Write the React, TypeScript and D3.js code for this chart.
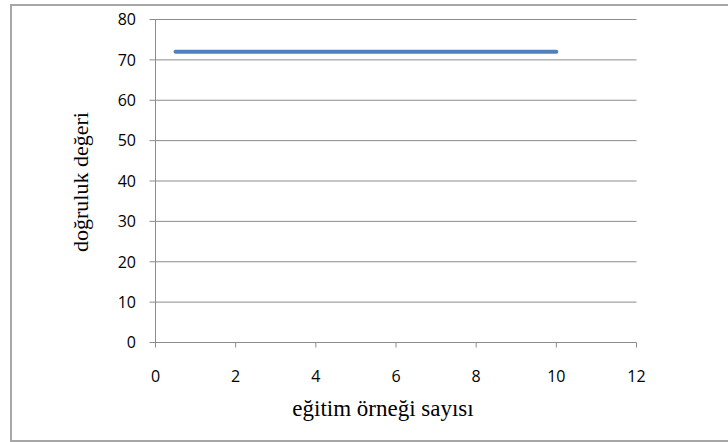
import React from "react";
import * as d3 from "d3";

// training sample count vs accuracy
const sampleCounts = [0.5, 10];
const accuracyValues = [72, 72];
const xTicks = [0, 2, 4, 6, 8, 10, 12];
const yTicks = [0, 10, 20, 30, 40, 50, 60, 70, 80];
const xTitle = "eğitim örneği sayısı";
const yTitle = "doğruluk değeri";

const W = 728;
const H = 442;
const M = { left: 155.5, right: 636.5, top: 19.5, bottom: 342.5 };

export default function App() {
  const x = d3.scaleLinear().domain([0, 12]).range([M.left, M.right]);
  const y = d3.scaleLinear().domain([0, 80]).range([M.bottom, M.top]);
  const points = sampleCounts.map((v, i) => [v, accuracyValues[i]] as [number, number]);
  const line = d3
    .line<[number, number]>()
    .x((d) => x(d[0]))
    .y((d) => y(d[1]));

  const tickFont = "'Open Sans', 'Liberation Sans', sans-serif";
  const titleFont = "'Liberation Serif', 'DejaVu Serif', serif";
  const grid = "#8c8c8c";

  return (
    <svg
      width={W}
      height={H}
      style={{ position: "absolute", left: 0, top: 0, background: "#fff" }}
    >
      {/* chart frame */}
      <rect x={11} y={5} width={740} height={436} fill="#fff" stroke="#a6a6a6" strokeWidth={2} />

      {/* horizontal gridlines */}
      {yTicks.map((t) => (
        <line key={"g" + t} x1={M.left - 6} x2={M.right} y1={y(t)} y2={y(t)} stroke={grid} strokeWidth={1} />
      ))}

      {/* y axis */}
      <line x1={M.left} x2={M.left} y1={M.top} y2={M.bottom} stroke={grid} strokeWidth={1} />

      {/* x axis ticks */}
      {xTicks.map((t) => (
        <line key={"xt" + t} x1={x(t)} x2={x(t)} y1={M.bottom} y2={M.bottom + 5} stroke={grid} strokeWidth={1} />
      ))}

      {/* y tick labels */}
      {yTicks.map((t) => (
        <text
          key={"yl" + t}
          x={136}
          y={y(t)}
          dy="0.36em"
          textAnchor="end"
          fontFamily={tickFont}
          fontSize={16}
          fill="#000"
        >
          {t}
        </text>
      ))}

      {/* x tick labels */}
      {xTicks.map((t) => (
        <text
          key={"xl" + t}
          x={x(t)}
          y={382}
          textAnchor="middle"
          fontFamily={tickFont}
          fontSize={16}
          fill="#000"
        >
          {t}
        </text>
      ))}

      {/* series */}
      <path
        d={line(points) ?? ""}
        fill="none"
        stroke="#4f81bd"
        strokeWidth={4}
        strokeLinecap="round"
      />

      {/* axis titles */}
      <text
        x={383}
        y={416}
        textAnchor="middle"
        fontFamily={titleFont}
        fontSize={23}
        fill="#000"
      >
        {xTitle}
      </text>
      <text
        transform={`translate(88,182) rotate(-90)`}
        textAnchor="middle"
        fontFamily={titleFont}
        fontSize={22}
        fill="#000"
      >
        {yTitle}
      </text>
    </svg>
  );
}
